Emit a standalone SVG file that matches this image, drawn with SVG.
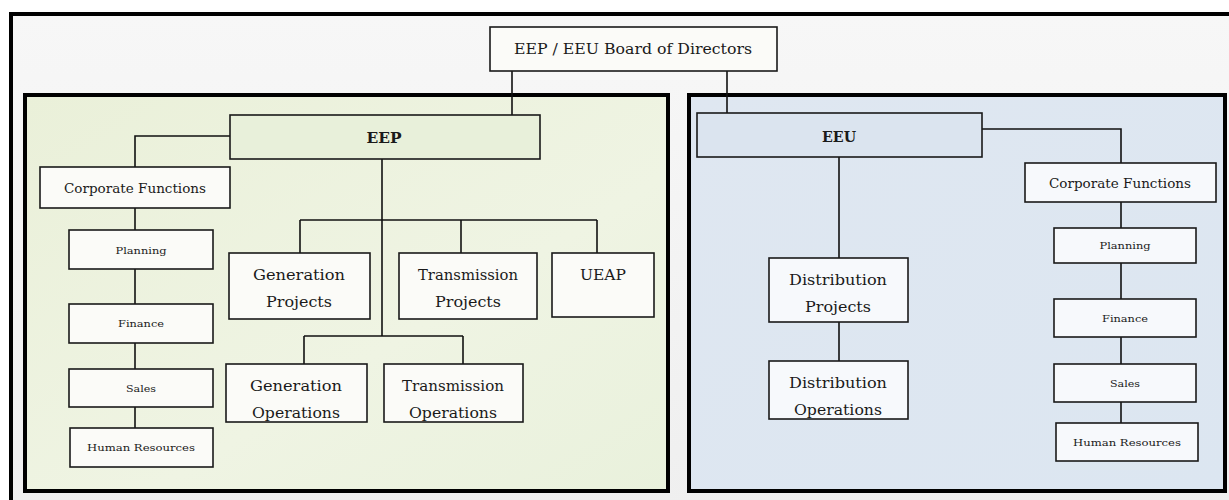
<svg xmlns="http://www.w3.org/2000/svg" width="1229" height="500" viewBox="0 0 1229 500">
<defs>
<linearGradient id="gGreen" x1="0" y1="0" x2="1" y2="1">
<stop offset="0" stop-color="#eaf0d9"/>
<stop offset="0.6" stop-color="#eff4e3"/>
<stop offset="1" stop-color="#e9f1dc"/>
</linearGradient>
<linearGradient id="gBlue" x1="0" y1="0" x2="1" y2="1">
<stop offset="0" stop-color="#dfe7f1"/>
<stop offset="1" stop-color="#dce6f1"/>
</linearGradient>
<linearGradient id="gTop" x1="0" y1="0" x2="0" y2="1">
<stop offset="0" stop-color="#f7f7f7"/>
<stop offset="1" stop-color="#efefef"/>
</linearGradient>
</defs>
<style>
.frame{fill:none;stroke:#000;stroke-width:4}
.box{stroke:#1a1a1a;stroke-width:1.6}
.w{fill:#fbfbf8}
.wb{fill:#f7f9fc}
.conn line,.conn polyline{stroke:#111;stroke-width:1.6;fill:none}
text{font-family:"DejaVu Serif","Liberation Serif",serif;fill:#1a1a1a;text-anchor:middle;dominant-baseline:central}
.big{font-size:14.5px}
.mid{font-size:12.5px}
.sm{font-size:9.5px}
</style>
<rect x="0" y="0" width="1229" height="500" fill="#ffffff"/>
<rect x="11" y="14" width="1230" height="500" fill="url(#gTop)"/>
<rect x="11" y="14" width="1230" height="500" class="frame"/>
<rect x="25" y="95" width="643" height="396" fill="url(#gGreen)" class="frame" style="fill:url(#gGreen)"/>
<rect x="689" y="95" width="536" height="396" class="frame" style="fill:url(#gBlue)"/>

<g class="conn" id="connectors">
<line x1="512" y1="71" x2="512" y2="115"/>
<line x1="727" y1="71" x2="727" y2="113"/>
<polyline points="230,136 135,136 135,167"/>
<line x1="135" y1="208" x2="135" y2="428"/>
<line x1="382" y1="159" x2="382" y2="336"/>
<line x1="300" y1="220" x2="597" y2="220"/>
<line x1="300" y1="220" x2="300" y2="253"/>
<line x1="461" y1="220" x2="461" y2="253"/>
<line x1="597" y1="220" x2="597" y2="253"/>
<line x1="304" y1="336" x2="463" y2="336"/>
<line x1="304" y1="336" x2="304" y2="364"/>
<line x1="463" y1="336" x2="463" y2="364"/>
<polyline points="982,129 1121,129 1121,163"/>
<line x1="1121" y1="202" x2="1121" y2="423"/>
<line x1="839" y1="157" x2="839" y2="258"/>
<line x1="839" y1="322" x2="839" y2="361"/>
</g>

<g id="board">
<rect x="490" y="27" width="287" height="44" class="box w"/>
<text x="633" y="49" class="big" textLength="238" lengthAdjust="spacingAndGlyphs">EEP / EEU Board of Directors</text>
</g>

<g id="eep">
<rect x="230" y="115" width="310" height="44" class="box" fill="#e8f0da"/>
<text x="384" y="137" class="big" font-weight="bold" textLength="35" lengthAdjust="spacingAndGlyphs">EEP</text>
</g>
<g id="eep-cf">
<rect x="40" y="167" width="190" height="41" class="box w"/>
<text x="135" y="188" class="mid" textLength="142" lengthAdjust="spacingAndGlyphs">Corporate Functions</text>
</g>
<g id="eep-planning">
<rect x="69" y="230" width="144" height="39" class="box w"/>
<text x="141" y="250" class="sm" textLength="51" lengthAdjust="spacingAndGlyphs">Planning</text>
</g>
<g id="eep-finance">
<rect x="69" y="304" width="144" height="39" class="box w"/>
<text x="141" y="323" class="sm" textLength="46" lengthAdjust="spacingAndGlyphs">Finance</text>
</g>
<g id="eep-sales">
<rect x="69" y="369" width="144" height="38" class="box w"/>
<text x="141" y="388" class="sm" textLength="30" lengthAdjust="spacingAndGlyphs">Sales</text>
</g>
<g id="eep-hr">
<rect x="70" y="428" width="143" height="39" class="box w"/>
<text x="141" y="447" class="sm" textLength="108" lengthAdjust="spacingAndGlyphs">Human Resources</text>
</g>
<g id="gen-projects">
<rect x="229" y="253" width="141" height="66" class="box w"/>
<text x="299" y="275" class="big" textLength="92" lengthAdjust="spacingAndGlyphs">Generation</text>
<text x="299" y="302" class="big" textLength="66" lengthAdjust="spacingAndGlyphs">Projects</text>
</g>
<g id="trans-projects">
<rect x="399" y="253" width="138" height="66" class="box w"/>
<text x="468" y="275" class="big" textLength="100" lengthAdjust="spacingAndGlyphs">Transmission</text>
<text x="468" y="302" class="big" textLength="66" lengthAdjust="spacingAndGlyphs">Projects</text>
</g>
<g id="ueap">
<rect x="552" y="253" width="102" height="64" class="box w"/>
<text x="603" y="275" class="big" textLength="46" lengthAdjust="spacingAndGlyphs">UEAP</text>
</g>
<g id="gen-ops">
<rect x="226" y="364" width="141" height="58" class="box w"/>
<text x="296" y="386" class="big" textLength="92" lengthAdjust="spacingAndGlyphs">Generation</text>
<text x="296" y="413" class="big" textLength="88" lengthAdjust="spacingAndGlyphs">Operations</text>
</g>
<g id="trans-ops">
<rect x="384" y="364" width="139" height="58" class="box w"/>
<text x="453" y="386" class="big" textLength="102" lengthAdjust="spacingAndGlyphs">Transmission</text>
<text x="453" y="413" class="big" textLength="88" lengthAdjust="spacingAndGlyphs">Operations</text>
</g>

<g id="eeu">
<rect x="697" y="113" width="285" height="44" class="box" fill="#dbe4ef"/>
<text x="839" y="136" class="big" font-weight="bold" textLength="34" lengthAdjust="spacingAndGlyphs">EEU</text>
</g>
<g id="eeu-cf">
<rect x="1025" y="163" width="191" height="39" class="box wb"/>
<text x="1120" y="183" class="mid" textLength="142" lengthAdjust="spacingAndGlyphs">Corporate Functions</text>
</g>
<g id="eeu-planning">
<rect x="1054" y="228" width="142" height="35" class="box wb"/>
<text x="1125" y="245" class="sm" textLength="51" lengthAdjust="spacingAndGlyphs">Planning</text>
</g>
<g id="eeu-finance">
<rect x="1054" y="299" width="142" height="38" class="box wb"/>
<text x="1125" y="318" class="sm" textLength="46" lengthAdjust="spacingAndGlyphs">Finance</text>
</g>
<g id="eeu-sales">
<rect x="1054" y="364" width="142" height="38" class="box wb"/>
<text x="1125" y="383" class="sm" textLength="30" lengthAdjust="spacingAndGlyphs">Sales</text>
</g>
<g id="eeu-hr">
<rect x="1056" y="423" width="142" height="38" class="box wb"/>
<text x="1127" y="442" class="sm" textLength="108" lengthAdjust="spacingAndGlyphs">Human Resources</text>
</g>
<g id="dist-projects">
<rect x="769" y="258" width="139" height="64" class="box wb"/>
<text x="838" y="280" class="big" textLength="98" lengthAdjust="spacingAndGlyphs">Distribution</text>
<text x="838" y="307" class="big" textLength="66" lengthAdjust="spacingAndGlyphs">Projects</text>
</g>
<g id="dist-ops">
<rect x="769" y="361" width="139" height="58" class="box wb"/>
<text x="838" y="383" class="big" textLength="98" lengthAdjust="spacingAndGlyphs">Distribution</text>
<text x="838" y="410" class="big" textLength="88" lengthAdjust="spacingAndGlyphs">Operations</text>
</g>
</svg>
